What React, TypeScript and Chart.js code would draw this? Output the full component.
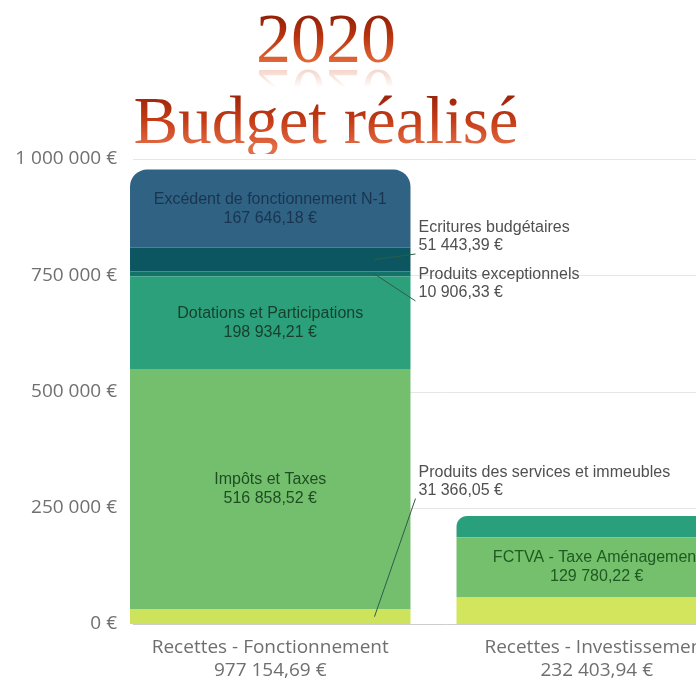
import React, { useEffect, useRef } from 'react';
import { Chart, registerables } from 'chart.js';

Chart.register(...registerables);

// ---------- data ----------
const titleYear = '2020';
const titleText = 'Budget réalisé';

const categories = ['Recettes - Fonctionnement', 'Recettes - Investissement'];
const categoryTotals = [977154.69, 232403.94];

const fonctionnementLabels = [
  'Produits des services et immeubles',
  'Impôts et Taxes',
  'Dotations et Participations',
  'Produits exceptionnels',
  'Ecritures budgétaires',
  'Excédent de fonctionnement N-1',
];
const fonctionnementValues = [31366.05, 516858.52, 198934.21, 10906.33, 51443.39, 167646.18];

const investissementLabels = ['Investissement (bas)', 'FCTVA - Taxe Aménagement', 'Investissement (haut)'];
const investissementValues = [57000, 129780.22, 45623.72];

const yTickValues = [0, 250000, 500000, 750000, 1000000];

// ---------- styles ----------
const fonctionnementColors = ['#cde35c', '#74bf6e', '#2ca07a', '#127468', '#0b5661', '#2f6283'];
const fonctionnementTextColors = ['', '#1e4d22', '#163f2d', '', '', '#1a3450'];
const fonctionnementModes = ['callout', 'inside', 'inside', 'callout', 'callout', 'inside'];
const fonctionnementCalloutTop = [345000, 0, 0, 770000, 871000, 0];

const investissementColors = ['#d3e55c', '#74c06c', '#2a9f7c'];
const investissementTextColors = ['', '#1f5a20', ''];
const investissementModes = ['none', 'inside', 'none'];

const CANVAS_W = 760;
const CANVAS_H = 681;
const Y_FONT = '"Open Sans", sans-serif';
const Y_FONT_SIZE = 19;

function groupDigits(s: string): string {
  return s.replace(/\B(?=(\d{3})+(?!\d))/g, ' ');
}
function fmtEuro(n: number): string {
  const [i, d] = n.toFixed(2).split('.');
  return groupDigits(i) + ',' + d + ' €';
}
function fmtTick(n: number): string {
  return groupDigits(String(Math.round(n))) + ' €';
}

function widestTickLabel(): number {
  const c = document.createElement('canvas');
  const ctx = c.getContext('2d');
  if (!ctx) return 100;
  ctx.font = `${Y_FONT_SIZE}px ${Y_FONT}`;
  return Math.max(...yTickValues.map((v) => ctx.measureText(fmtTick(v)).width));
}

const gridPlugin = {
  id: 'customGrid',
  beforeDatasetsDraw(chart: any) {
    const { ctx } = chart;
    const y = chart.scales.y;
    const el = chart.getDatasetMeta(0).data[0];
    const left = el.x - el.width / 2 + 3;
    ctx.save();
    ctx.lineWidth = 1;
    yTickValues.forEach((v) => {
      const py = Math.round(y.getPixelForValue(v)) + 0.5;
      ctx.strokeStyle = v === 0 ? '#cdcdcd' : '#e6e6e6';
      ctx.beginPath();
      ctx.moveTo(left, py);
      ctx.lineTo(chart.width, py);
      ctx.stroke();
    });
    ctx.restore();
  },
};

const labelsPlugin = {
  id: 'segmentLabels',
  afterDatasetsDraw(chart: any) {
    const { ctx } = chart;
    const yScale = chart.scales.y;
    chart.data.datasets.forEach((ds: any, di: number) => {
      if (ds.labelMode === 'none') return;
      const meta = chart.getDatasetMeta(di);
      const ci = ds.data.findIndex((v: any) => v != null);
      const el = meta.data[ci];
      const { x, y, base, width } = el.getProps(['x', 'y', 'base', 'width'], true);
      const value = ds.data[ci];
      const lines = [ds.label, fmtEuro(value)];
      ctx.save();
      ctx.font = '16px "Liberation Sans", Arial, sans-serif';
      ctx.textBaseline = 'middle';
      if (ds.labelMode === 'inside') {
        ctx.fillStyle = ds.textColor;
        ctx.textAlign = 'center';
        const cy = (y + base) / 2;
        ctx.fillText(lines[0], x, cy - 9.5);
        ctx.fillText(lines[1], x, cy + 9.5);
      } else {
        const lx = x + width / 2 + 8;
        const top = yScale.getPixelForValue(ds.calloutTop);
        ctx.fillStyle = '#505050';
        ctx.textAlign = 'left';
        ctx.fillText(lines[0], lx, top + 9);
        ctx.fillText(lines[1], lx, top + 27);
        ctx.strokeStyle = '#2f5d47';
        ctx.lineWidth = 1;
        ctx.beginPath();
        ctx.moveTo(x + width / 2 - 36, (y + base) / 2);
        ctx.lineTo(lx - 3, top + 35);
        ctx.stroke();
      }
      ctx.restore();
    });
  },
};

export default function App() {
  const canvasRef = useRef<HTMLCanvasElement | null>(null);

  useEffect(() => {
    if (!canvasRef.current) return;
    const widest = widestTickLabel();
    const datasets: any[] = [
      ...fonctionnementValues.map((v, i) => ({
        label: fonctionnementLabels[i],
        data: [v, null],
        backgroundColor: fonctionnementColors[i],
        textColor: fonctionnementTextColors[i],
        labelMode: fonctionnementModes[i],
        calloutTop: fonctionnementCalloutTop[i],
        stack: 'recettes',
        borderWidth: 0,
        borderRadius: 17,
        borderSkipped: 'start',
      })),
      ...investissementValues.map((v, i) => ({
        label: investissementLabels[i],
        data: [null, v],
        backgroundColor: investissementColors[i],
        textColor: investissementTextColors[i],
        labelMode: investissementModes[i],
        stack: 'recettes',
        borderWidth: 0,
        borderRadius: 17,
        borderSkipped: 'start',
      })),
    ];

    const chart = new Chart(canvasRef.current, {
      type: 'bar',
      data: {
        labels: categories.map((c, i) => [c, fmtEuro(categoryTotals[i])]),
        datasets,
      },
      options: {
        animation: false,
        responsive: false,
        layout: { padding: { top: 159, bottom: 0, left: 107, right: 0 } },
        plugins: {
          legend: { display: false },
          tooltip: { enabled: false },
          title: { display: false },
        },
        datasets: {
          bar: { categoryPercentage: 0.859, barPercentage: 1 },
        },
        scales: {
          x: {
            stacked: true,
            grid: { display: false, drawTicks: false },
            border: { display: false },
            afterFit: (s: any) => {
              s.height = 57;
            },
            ticks: {
              padding: 12,
              color: '#6f6f6f',
              font: { family: '"Open Sans", sans-serif', size: 19 },
              maxRotation: 0,
              autoSkip: false,
            },
          },
          y: {
            stacked: true,
            min: 0,
            max: 1000000,
            grid: { display: false, drawTicks: false },
            border: { display: false },
            afterBuildTicks: (s: any) => {
              s.ticks = yTickValues.map((v) => ({ value: v }));
            },
            afterFit: (s: any) => {
              s.width = 0;
            },
            ticks: {
              mirror: true,
              crossAlign: 'far',
              padding: 10 - widest,
              color: '#707070',
              font: { family: Y_FONT, size: Y_FONT_SIZE },
              callback: (v: any) => fmtTick(Number(v)),
            },
          },
        },
      } as any,
      plugins: [gridPlugin, labelsPlugin],
    });
    return () => chart.destroy();
  }, []);

  const titleCommon: React.CSSProperties = {
    position: 'absolute',
    left: 0,
    width: 652,
    textAlign: 'center',
    fontFamily: '"Liberation Serif", "Times New Roman", serif',
    whiteSpace: 'nowrap',
    color: 'transparent',
    WebkitBackgroundClip: 'text',
    backgroundClip: 'text',
    zIndex: 2,
  };

  return (
    <div style={{ position: 'fixed', left: 0, top: 0, width: 696, height: 681, overflow: 'hidden', background: '#fff' }}>
      <div style={{ position: 'absolute', left: 0, top: 0, width: CANVAS_W, height: CANVAS_H }}>
        <canvas ref={canvasRef} width={CANVAS_W} height={CANVAS_H} style={{ width: CANVAS_W, height: CANVAS_H }} />
      </div>
      <div
        style={{
          ...titleCommon,
          top: 4,
          fontSize: 70,
          lineHeight: '70px',
          backgroundImage: 'linear-gradient(to bottom, #8a1c05 10%, #b8320e 45%, #e36a3a 85%)',
          WebkitBoxReflect: 'below -16px linear-gradient(transparent 58%, rgba(255,255,255,0.45))',
        } as any}
      >
        {titleYear}
      </div>
      <div
        style={{
          ...titleCommon,
          top: 87,
          fontSize: 67,
          lineHeight: '67px',
          backgroundImage: 'linear-gradient(to bottom, #941f08 5%, #c53c16 50%, #e36d47 90%)',
        }}
      >
        {titleText}
      </div>
    </div>
  );
}
